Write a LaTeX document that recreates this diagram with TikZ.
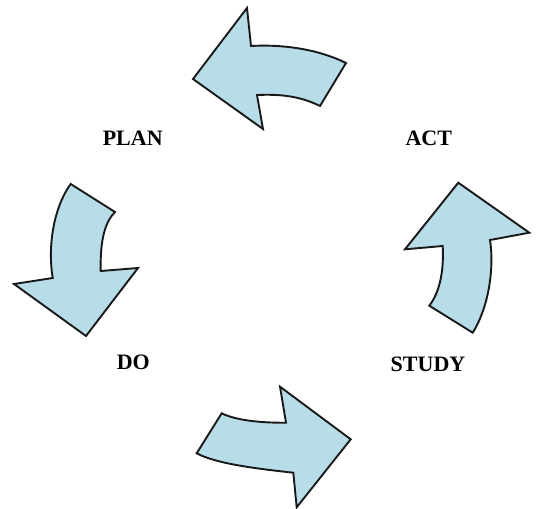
\documentclass[tikz,border=0pt]{standalone}
\usepackage{fontspec}
\setmainfont{Liberation Serif}
\usepackage{xcolor}
\definecolor{cyclefill}{RGB}{183,221,232}

\begin{document}
\begin{tikzpicture}[x=1pt,y=-1pt,
	bend arrow/.style={draw=black!90,fill=cyclefill,line width=1.9pt,line join=miter},
	phase/.style={font=\fontsize{22}{26}\selectfont\bfseries,inner sep=0pt}]
\useasboundingbox (0,0) rectangle (536,509);
% top arrow, pointing left
\draw[bend arrow] (346,63) -- (320,106) .. controls (300,96) and (280,94) .. (257,95)
	-- (263,129) -- (193,79) -- (247,8) -- (251,46) .. controls (285,44) and (320,50) .. cycle;
% left arrow, pointing down
\draw[bend arrow] (70.7,184) -- (115,212) .. controls (105,222) and (100,240) .. (100.7,271)
	-- (138,268) -- (86,336) -- (14,284) -- (52.7,278) .. controls (48,250) and (52,210) .. cycle;
% bottom arrow, pointing right
\draw[bend arrow] (221.7,413.3) .. controls (235,420) and (260,423) .. (286,422.7)
	-- (280,386.7) -- (350.7,439.3) -- (296.7,507.3) -- (293.3,472.7)
	.. controls (250,468) and (215,463) .. (196.7,453.3) -- cycle;
% right arrow, pointing up
\draw[bend arrow] (429.3,305.7) .. controls (440,292) and (444,270) .. (442.7,246)
	-- (405,249.3) -- (458.3,182.7) -- (529.3,232.7) -- (490,240)
	.. controls (494,265) and (490,305) .. (472.7,332.7) -- cycle;
\node[phase] (plan) at (132.7,138) {PLAN};
\node[phase] (act) at (428.8,138) {ACT};
\node[phase] (do) at (133.3,362.8) {DO};
\node[phase] (study) at (428,364.5) {STUDY};
\end{tikzpicture}
\end{document}
